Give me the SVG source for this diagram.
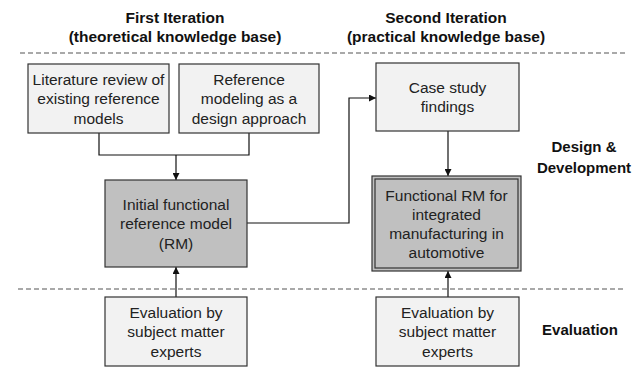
<svg xmlns="http://www.w3.org/2000/svg" width="637" height="371" viewBox="0 0 637 371">
<defs>
<style>
.box{fill:#f2f2f2;stroke:#333;stroke-width:1.2}
.dark{fill:#c0c0c0;stroke:#333;stroke-width:1.2}
.t{font-family:"Liberation Sans",Arial,sans-serif;font-size:15.5px;fill:#222;text-anchor:middle}
.h{font-family:"Liberation Sans",Arial,sans-serif;font-size:15.5px;font-weight:bold;fill:#111;text-anchor:middle}
.s{font-family:"Liberation Sans",Arial,sans-serif;font-size:15px;font-weight:bold;fill:#111;text-anchor:middle}
.c{fill:none;stroke:#111;stroke-width:1.2}
.d{fill:none;stroke:#555;stroke-width:1.2;stroke-dasharray:5,3}
</style>
<marker id="ah" viewBox="0 0 10 10" refX="10" refY="5" markerWidth="7" markerHeight="7" markerUnits="userSpaceOnUse" orient="auto">
<path d="M0,0 L10,5 L0,10 z" fill="#111"/>
</marker>
</defs>
<rect width="637" height="371" fill="#fff"/>
<g id="labels">
<text class="h" x="175" y="23">First Iteration</text>
<text class="h" x="175" y="42">(theoretical knowledge base)</text>
<text class="h" x="446" y="23">Second Iteration</text>
<text class="h" x="446" y="42">(practical knowledge base)</text>
<text class="s" x="584" y="152">Design &amp;</text>
<text class="s" x="584" y="173">Development</text>
<text class="s" x="580" y="335">Evaluation</text>
</g>
<g id="dividers">
<line class="d" x1="20" y1="53" x2="625" y2="53"/>
<line class="d" x1="18" y1="289" x2="625" y2="289"/>
</g>
<g id="connectors">
<path class="c" d="M99,133 V155 H249 V133"/>
<path class="c" d="M176,155 V180" marker-end="url(#ah)"/>
<path class="c" d="M176,297 V267" marker-end="url(#ah)"/>
<path class="c" d="M247,223 H349 V98 H376" marker-end="url(#ah)"/>
<path class="c" d="M448,131 V176" marker-end="url(#ah)"/>
<path class="c" d="M448,297 V271" marker-end="url(#ah)"/>
</g>
<g id="lit">
<rect class="box" x="28" y="64" width="141" height="69"/>
<text class="t" x="98.5" y="84.5">Literature review of</text>
<text class="t" x="98.5" y="104">existing reference</text>
<text class="t" x="98.5" y="123.5">models</text>
</g>
<g id="refmod">
<rect class="box" x="179" y="64" width="140" height="69"/>
<text class="t" x="249" y="84.5">Reference</text>
<text class="t" x="249" y="104">modeling as a</text>
<text class="t" x="249" y="123.5">design approach</text>
</g>
<g id="initial">
<rect class="dark" x="105" y="180" width="142" height="87"/>
<text class="t" x="176" y="209.5">Initial functional</text>
<text class="t" x="176" y="229">reference model</text>
<text class="t" x="176" y="248.5">(RM)</text>
</g>
<g id="eval1">
<rect class="box" x="105" y="297" width="142" height="69"/>
<text class="t" x="176" y="317.5">Evaluation by</text>
<text class="t" x="176" y="337">subject matter</text>
<text class="t" x="176" y="356.5">experts</text>
</g>
<g id="case">
<rect class="box" x="376" y="63" width="143" height="68"/>
<text class="t" x="447.5" y="92.75">Case study</text>
<text class="t" x="447.5" y="112.25">findings</text>
</g>
<g id="functional">
<rect class="dark" x="372" y="176" width="149" height="95"/>
<rect fill="none" stroke="#333" stroke-width="1.2" x="375" y="179" width="143" height="89"/>
<text class="t" x="446.5" y="200.5">Functional RM for</text>
<text class="t" x="446.5" y="219.5">integrated</text>
<text class="t" x="446.5" y="238.5">manufacturing in</text>
<text class="t" x="446.5" y="257.5">automotive</text>
</g>
<g id="eval2">
<rect class="box" x="376" y="297" width="143" height="69"/>
<text class="t" x="447.5" y="317.5">Evaluation by</text>
<text class="t" x="447.5" y="337">subject matter</text>
<text class="t" x="447.5" y="356.5">experts</text>
</g>
</svg>
